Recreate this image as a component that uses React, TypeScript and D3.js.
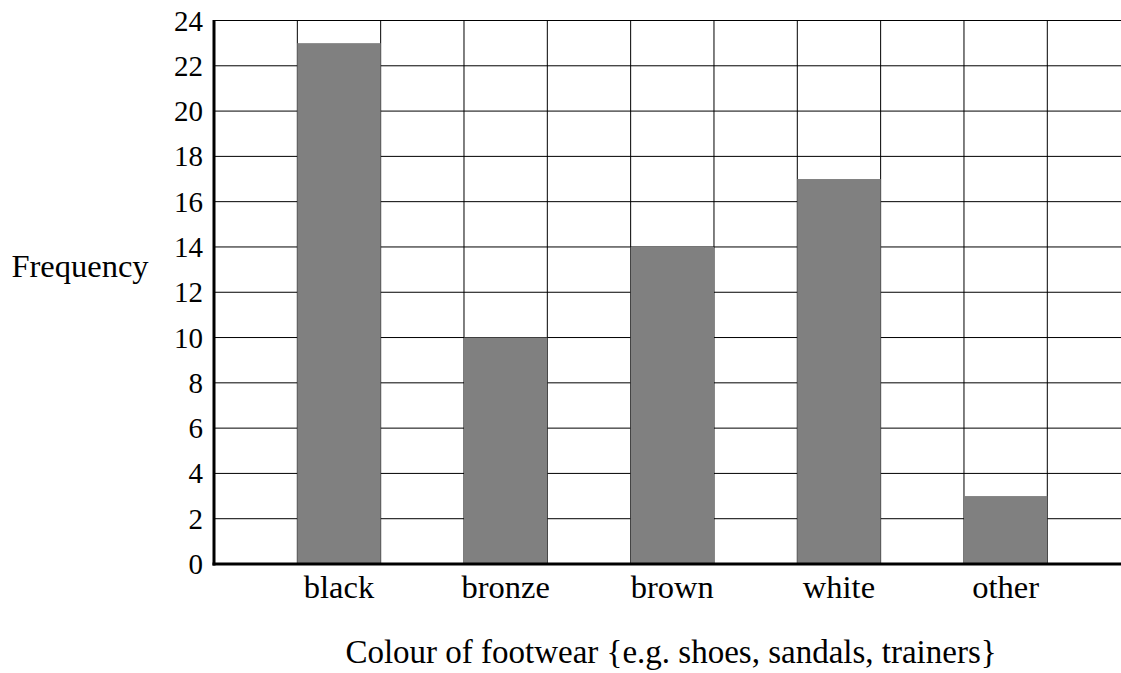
import * as d3 from "d3";

const CATEGORIES = ["black", "bronze", "brown", "white", "other"];
const FREQUENCIES = [23, 10, 14, 17, 3];
// each category sits in every other grid column (1, 3, 5, 7, 9)
const SLOTS = [1, 3, 5, 7, 9];
const Y_TICKS = [0, 2, 4, 6, 8, 10, 12, 14, 16, 18, 20, 22, 24];
const COLUMN_LINES = [0, 1, 2, 3, 4, 5, 6, 7, 8, 9, 10, 11];

const FONT = "'Liberation Serif', 'DejaVu Serif', serif";

export default function App() {
  const width = 1121;
  const height = 673;
  const left = 214;
  const colW = 83.33;

  const x = d3.scaleLinear().domain([0, 11]).range([left, left + 11 * colW]);
  const y = d3.scaleLinear().domain([0, 24]).range([564, 20.5]);

  return (
    <div style={{ position: "fixed", left: 0, top: 0, background: "#fff" }}>
      <svg width={width} height={height} style={{ display: "block" }}>
        <rect width={width} height={height} fill="#fff" />

        {/* grid */}
        {Y_TICKS.map((t) => (
          <line
            key={"h" + t}
            x1={x(0)}
            x2={x(11)}
            y1={y(t)}
            y2={y(t)}
            stroke="#000"
            strokeWidth={1}
          />
        ))}
        {COLUMN_LINES.map((c) => (
          <line
            key={"v" + c}
            x1={x(c)}
            x2={x(c)}
            y1={y(24)}
            y2={y(0)}
            stroke="#000"
            strokeWidth={1}
          />
        ))}

        {/* bars */}
        {FREQUENCIES.map((v, i) => (
          <rect
            key={CATEGORIES[i]}
            x={x(SLOTS[i])}
            y={y(v)}
            width={x(SLOTS[i] + 1) - x(SLOTS[i])}
            height={y(0) - y(v)}
            fill="#808080"
          />
        ))}

        {/* axes */}
        <line x1={x(0)} x2={x(0)} y1={y(24) - 0.5} y2={y(0) + 1.5} stroke="#000" strokeWidth={3} />
        <line x1={x(0) - 1.5} x2={x(11)} y1={y(0)} y2={y(0)} stroke="#000" strokeWidth={3} />

        {/* y tick labels */}
        {Y_TICKS.map((t) => (
          <text
            key={"yl" + t}
            x={203}
            y={y(t) + 10}
            textAnchor="end"
            fontFamily={FONT}
            fontSize={29}
            fill="#000"
          >
            {t}
          </text>
        ))}

        {/* category labels */}
        {CATEGORIES.map((c, i) => (
          <text
            key={"xl" + c}
            x={(x(SLOTS[i]) + x(SLOTS[i] + 1)) / 2}
            y={598}
            textAnchor="middle"
            fontFamily={FONT}
            fontSize={32.5}
            fill="#000"
          >
            {c}
          </text>
        ))}

        <text x={80} y={277} textAnchor="middle" fontFamily={FONT} fontSize={32.5} fill="#000">
          Frequency
        </text>
        <text x={671} y={663} textAnchor="middle" fontFamily={FONT} fontSize={33} fill="#000">
          Colour of footwear {"{"}e.g. shoes, sandals, trainers{"}"}
        </text>
      </svg>
    </div>
  );
}
